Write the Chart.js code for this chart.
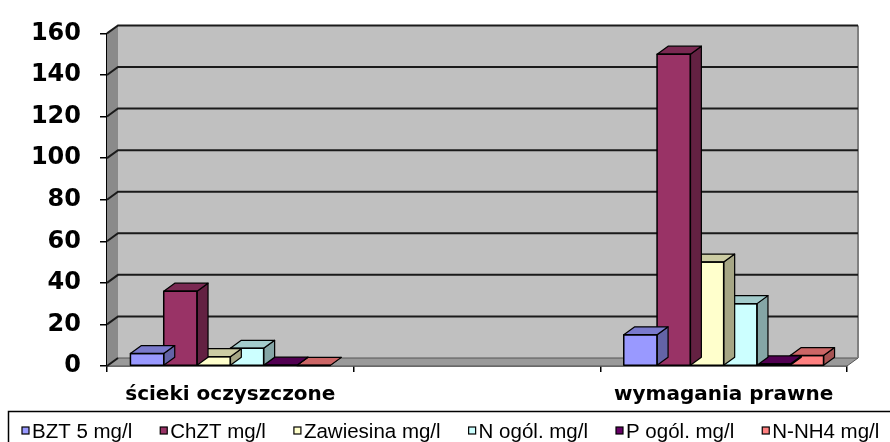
<!DOCTYPE html>
<html>
<head>
<meta charset="utf-8">
<script src="https://cdn.jsdelivr.net/npm/chart.js@4.4.1/dist/chart.umd.min.js"></script>
<style>
    html, body { margin: 0; padding: 0; background: #fff; }
    canvas { display: block; }
</style>
</head>
<body>
<canvas id="chart" width="890" height="442"></canvas>
<script>
// kategorie (środkowa pusta, jak w oryginalnym wykresie)
const categories = ['ścieki oczyszczone', '', 'wymagania prawne'];
const seriesNames = ['BZT 5 mg/l', 'ChZT mg/l', 'Zawiesina mg/l', 'N ogól. mg/l', 'P ogól. mg/l', 'N-NH4 mg/l'];

// wartości serii
const bzt5 = [6, null, 15];
const chzt = [36, null, 150];
const zawiesina = [4.5, null, 50];
const nOgol = [8.5, null, 30];
const pOgol = [0.4, null, 1];
const nNh4 = [0.3, null, 5];

const yTicks = [0, 20, 40, 60, 80, 100, 120, 140, 160];
const seriesColors = ['#9999FF', '#993366', '#FFFFCC', '#CCFFFF', '#660066', '#FF8080'];

const FONT = "'Liberation Sans', Arial, sans-serif";
const AXIS_FONT = "'DejaVu Sans', Verdana, sans-serif";
const DX = 11, DY = -8;   // głębokość efektu 3D

function shade(hex, f) {
    const n = parseInt(hex.slice(1), 16);
    const r = Math.round(((n >> 16) & 255) * f);
    const g = Math.round(((n >> 8) & 255) * f);
    const b = Math.round((n & 255) * f);
    return `rgb(${r},${g},${b})`;
}

function poly(ctx, pts, fill, stroke, lw) {
    ctx.beginPath();
    ctx.moveTo(pts[0][0], pts[0][1]);
    for (let i = 1; i < pts.length; i++) ctx.lineTo(pts[i][0], pts[i][1]);
    ctx.closePath();
    if (fill) { ctx.fillStyle = fill; ctx.fill(); }
    if (stroke) { ctx.strokeStyle = stroke; ctx.lineWidth = lw || 1; ctx.stroke(); }
}

// ściany i siatka w tle
const wallsPlugin = {
    id: 'walls',
    beforeDatasetsDraw(chart) {
        const ctx = chart.ctx;
        const a = chart.chartArea;
        const ys = chart.scales.y;
        ctx.save();
        // tylna ściana
        poly(ctx, [[a.left + DX, a.top + DY], [a.right + DX, a.top + DY],
                   [a.right + DX, a.bottom + DY], [a.left + DX, a.bottom + DY]], '#c0c0c0');
        // lewa ściana
        poly(ctx, [[a.left, a.top], [a.left + DX, a.top + DY],
                   [a.left + DX, a.bottom + DY], [a.left, a.bottom]], '#8a8a8a');
        // podłoga
        poly(ctx, [[a.left, a.bottom], [a.left + DX, a.bottom + DY],
                   [a.right + DX, a.bottom + DY], [a.right, a.bottom]], '#9a9a9a', '#555', 1);
        // prawa krawędź ściany
        ctx.strokeStyle = '#808080';
        ctx.lineWidth = 2;
        ctx.beginPath();
        ctx.moveTo(a.right + DX, a.top + DY);
        ctx.lineTo(a.right + DX, a.bottom + DY);
        ctx.stroke();
        // linie siatki
        ctx.strokeStyle = '#1a1a1a';
        ctx.lineWidth = 2;
        yTicks.forEach(v => {
            const y = ys.getPixelForValue(v);
            ctx.beginPath();
            ctx.moveTo(a.left, y);
            ctx.lineTo(a.left + DX, y + DY);
            if (v > 0) ctx.lineTo(a.right + DX, y + DY);
            ctx.stroke();
        });
        ctx.restore();
    },
    // górna i boczna ściana słupka po narysowaniu frontu
    afterDatasetDraw(chart, args) {
        const ctx = chart.ctx;
        const color = seriesColors[args.index];
        ctx.save();
        ctx.lineJoin = 'round';
        args.meta.data.forEach((bar, i) => {
            if (chart.data.datasets[args.index].data[i] == null) return;
            const p = bar.getProps(['x', 'y', 'base', 'width'], true);
            const l = p.x - p.width / 2, r = p.x + p.width / 2;
            const t = p.y, b = p.base;
            poly(ctx, [[r, t], [r + DX, t + DY], [r + DX, b + DY], [r, b]], shade(color, 0.65), '#000', 1.2);
            poly(ctx, [[l, t], [l + DX, t + DY], [r + DX, t + DY], [r, t]], shade(color, 0.8), '#000', 1.2);
            ctx.strokeStyle = '#000';
            ctx.lineWidth = 1.5;
            ctx.strokeRect(l, t, r - l, b - t);
        });
        ctx.restore();
    },
    // legenda w ramce
    afterDraw(chart) {
        const ctx = chart.ctx;
        ctx.save();
        ctx.strokeStyle = '#000';
        ctx.lineWidth = 1.5;
        ctx.strokeRect(8.5, 411.5, 900, 60);
        ctx.font = '20.5px ' + FONT;
        ctx.textBaseline = 'alphabetic';
        let x = 22;
        seriesNames.forEach((name, i) => {
            ctx.fillStyle = seriesColors[i];
            ctx.fillRect(x, 427, 7, 7);
            ctx.lineWidth = 1.2;
            ctx.strokeRect(x, 427, 7, 7);
            ctx.fillStyle = '#000';
            ctx.fillText(name, x + 10, 438);
            x += 10 + ctx.measureText(name).width + 28;
        });
        ctx.restore();
    }
};

const datasets = [bzt5, chzt, zawiesina, nOgol, pOgol, nNh4].map((values, i) => ({
    label: seriesNames[i],
    data: values,
    backgroundColor: seriesColors[i],
    borderWidth: 0,
    barPercentage: 1,
    categoryPercentage: 0.81
}));

new Chart(document.getElementById('chart'), {
    type: 'bar',
    data: { labels: categories, datasets: datasets },
    options: {
        responsive: false,
        animation: false,
        layout: { padding: { top: 25, right: 43, left: 0, bottom: 0 } },
        plugins: {
            legend: { display: false },
            tooltip: { enabled: false }
        },
        scales: {
            x: {
                afterFit: s => { s.height = 76; },
                grid: { drawOnChartArea: false, tickLength: 6, color: '#000', lineWidth: 1.5, offset: true },
                border: { display: true, color: '#000', width: 1.5 },
                ticks: {
                    color: '#000',
                    font: { family: AXIS_FONT, size: 20, weight: 'bold' },
                    padding: 11,
                    maxRotation: 0,
                    autoSkip: false
                }
            },
            y: {
                min: 0,
                max: 160,
                afterFit: s => { s.width = 107; },
                afterBuildTicks: s => { s.ticks = yTicks.map(v => ({ value: v })); },
                grid: { drawOnChartArea: false, tickLength: 7, color: '#000', lineWidth: 1.5 },
                border: { display: true, color: '#000', width: 1.5 },
                ticks: {
                    color: '#000',
                    font: { family: AXIS_FONT, size: 24, weight: 'bold' },
                    padding: 19
                }
            }
        }
    },
    plugins: [wallsPlugin]
});
</script>
</body>
</html>
